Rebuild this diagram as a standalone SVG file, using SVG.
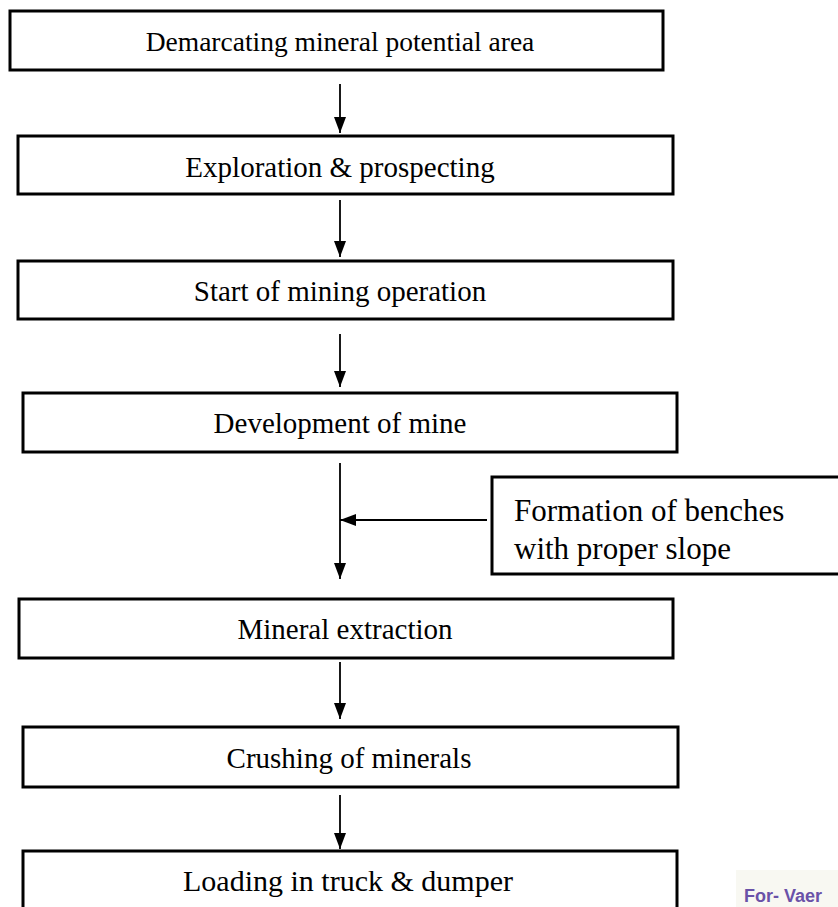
<svg xmlns="http://www.w3.org/2000/svg" width="838" height="907" viewBox="0 0 838 907">
<defs>
<style>
.box{fill:#fff;stroke:#000;stroke-width:3}
.t{font-family:"Liberation Serif","DejaVu Serif",serif;font-size:29px;fill:#000;text-anchor:middle}
.ts{font-family:"Liberation Serif","DejaVu Serif",serif;font-size:31px;fill:#000}
.c{stroke:#000;stroke-width:1.8;fill:none}
</style>
<marker id="av" viewBox="0 0 12 16" refX="6" refY="16" markerWidth="12" markerHeight="16" markerUnits="userSpaceOnUse">
<path d="M0,0 L12,0 L6,16 Z" fill="#000"/>
</marker>
<marker id="ahz" viewBox="0 0 16 12" refX="0" refY="6" markerWidth="16" markerHeight="12" markerUnits="userSpaceOnUse">
<path d="M16,0 L16,12 L0,6 Z" fill="#000"/>
</marker>
</defs>
<rect width="838" height="907" fill="#fff"/>
<g id="connectors">
<line class="c" x1="340" y1="84" x2="340" y2="133" marker-end="url(#av)"/>
<line class="c" x1="340" y1="200" x2="340" y2="257" marker-end="url(#av)"/>
<line class="c" x1="340" y1="334" x2="340" y2="387" marker-end="url(#av)"/>
<line class="c" x1="340" y1="463" x2="340" y2="579" marker-end="url(#av)"/>
<line class="c" x1="340" y1="520" x2="487" y2="520" marker-start="url(#ahz)"/>
<line class="c" x1="340" y1="662" x2="340" y2="719" marker-end="url(#av)"/>
<line class="c" x1="340" y1="795" x2="340" y2="849" marker-end="url(#av)"/>
</g>
<g id="n1"><rect class="box" x="10" y="11" width="653" height="59"/><text class="t" x="340" y="51" style="font-size:27.5px">Demarcating mineral potential area</text></g>
<g id="n2"><rect class="box" x="18" y="136" width="655" height="58"/><text class="t" x="340" y="177">Exploration &amp; prospecting</text></g>
<g id="n3"><rect class="box" x="18" y="261" width="655" height="58"/><text class="t" x="340" y="301">Start of mining operation</text></g>
<g id="n4"><rect class="box" x="23" y="393" width="654" height="59"/><text class="t" x="340" y="433">Development of mine</text></g>
<g id="n5"><rect class="box" x="492" y="477" width="360" height="97"/><text class="ts" x="514" y="521">Formation of benches</text><text class="ts" x="514" y="559">with proper slope</text></g>
<g id="n6"><rect class="box" x="19" y="599" width="654" height="59"/><text class="t" x="345" y="639">Mineral extraction</text></g>
<g id="n7"><rect class="box" x="23" y="727" width="655" height="60"/><text class="t" x="349" y="768">Crushing of minerals</text></g>
<g id="n8"><rect class="box" x="23" y="851" width="654" height="80"/><text class="t" x="348" y="891" style="font-size:30px">Loading in truck &amp; dumper</text></g>
<g id="watermark">
<rect x="736" y="870" width="102" height="37" fill="#f8f8f2"/>
<text x="744" y="902" font-family="'Liberation Sans','DejaVu Sans',sans-serif" font-size="18" font-weight="bold" fill="#6a52a8">For- Vaer</text>
</g>
</svg>
